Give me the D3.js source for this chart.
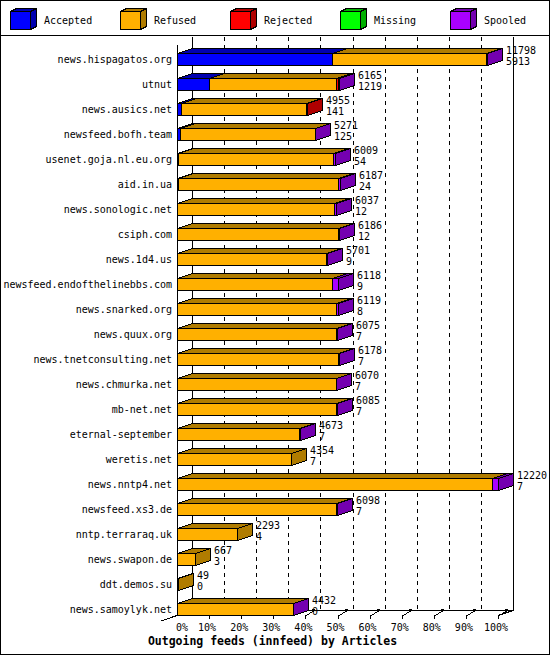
<!DOCTYPE html>
<html><head><meta charset="utf-8">
<script src="https://cdn.jsdelivr.net/npm/d3@7"></script>
<style>
body{margin:0;background:#fff}
svg{display:block}
text{font-family:"DejaVu Sans Mono",monospace;font-size:10px;fill:#000}
</style>
</head><body><svg id="c" width="550" height="655"></svg>
<script>
// ---- data ----
const hosts = ["news.hispagatos.org","utnut","news.ausics.net","newsfeed.bofh.team","usenet.goja.nl.eu.org",
  "aid.in.ua","news.sonologic.net","csiph.com","news.1d4.us","newsfeed.endofthelinebbs.com",
  "news.snarked.org","news.quux.org","news.tnetconsulting.net","news.chmurka.net","mb-net.net",
  "eternal-september","weretis.net","news.nntp4.net","newsfeed.xs3.de","nntp.terraraq.uk",
  "news.swapon.de","ddt.demos.su","news.samoylyk.net"];
const accepted = [5913,1219,141,125,54,24,12,12,9,9,8,7,7,7,7,7,7,7,7,4,3,0,0];
const refused  = [5865,4846,4784,5136,5895,6103,5975,6114,5672,5889,6061,6053,6141,6043,6058,4651,4347,12003,6051,2289,664,49,4417];
const rejected = [0,60,30,0,0,0,0,0,0,0,0,0,0,0,0,0,0,0,0,0,0,0,0];
const missing  = [0,0,0,0,0,0,0,0,0,0,0,0,0,0,0,0,0,0,0,0,0,0,0];
const spooled  = [20,40,0,10,60,60,50,60,20,220,50,15,30,20,20,15,0,210,40,0,0,0,15];
const seriesNames = ["Accepted","Refused","Rejected","Missing","Spooled"];
const seriesFront = ["#0000ff","#ffb000","#ff0000","#00ff00","#aa00ff"];
const seriesDark  = ["#0000b0","#b07c00","#b00000","#00b000","#7400b0"];
const tickPercents = [0,10,20,30,40,50,60,70,80,90,100];
const tickLabels = ["0%","10%","20%","30%","40%","50%","60%","70%","80%","90%","100%"];
const title = "Outgoing feeds (innfeed) by Articles";

// ---- layout ----
const W = 550, H = 655, DX = 15, DY = 5;
const series = [accepted, refused, rejected, missing, spooled];
const totals = hosts.map((h,i) => series.reduce((s,a) => s + a[i], 0));
const maxTotal = d3.max(totals);
const xp = d3.scaleLinear().domain([0,100]).range([177,498]);
const xv = v => xp(v / maxTotal * 100);
const y = d3.scaleBand().domain(hosts).range([40,615]);

const svg = d3.select("#c").attr("shape-rendering","crispEdges");
svg.append("rect").attr("x",0.5).attr("y",0.5).attr("width",W-1).attr("height",H-1)
  .attr("fill","#fff").attr("stroke","#000");

// legend
const lg = svg.append("g");
seriesNames.forEach((n,i) => {
  const x0 = 10 + 110*i + 0.5, y0 = 11.5, w = 20, h = 18, dx = 6, dy = 3;
  const g = lg.append("g");
  g.append("rect").attr("x",x0).attr("y",y0).attr("width",w).attr("height",h)
    .attr("fill",seriesFront[i]).attr("stroke","#000");
  g.append("polygon").attr("points",[[x0,y0],[x0+dx,y0-dy],[x0+w+dx,y0-dy],[x0+w,y0]].join(" "))
    .attr("fill",seriesDark[i]).attr("stroke","#000");
  g.append("polygon").attr("points",[[x0+w,y0],[x0+w+dx,y0-dy],[x0+w+dx,y0+h-dy],[x0+w,y0+h]].join(" "))
    .attr("fill",seriesDark[i]).attr("stroke","#000");
  g.append("text").attr("x",10+110*i+34).attr("y",24).text(n);
});
svg.append("line").attr("x1",0).attr("x2",W).attr("y1",35.5).attr("y2",35.5).attr("stroke","#000");

// back wall grid
const yTopGrid = 37, yFloorBack = 610.5, yFloorFront = 615.5;
tickPercents.forEach(p => {
  const xb = Math.round(xp(p)) + DX + 0.5;
  svg.append("line").attr("x1",xb).attr("x2",xb).attr("y1",yTopGrid).attr("y2",yFloorBack)
    .attr("stroke","#000").attr("stroke-dasharray",(p>0 && p<100) ? "4,4" : null);
});
svg.append("line").attr("x1",Math.round(xp(0))+DX).attr("x2",Math.round(xp(100))+DX)
  .attr("y1",yFloorBack).attr("y2",yFloorBack).attr("stroke","#000");
svg.append("line").attr("x1",Math.round(xp(100))).attr("y1",yFloorFront)
  .attr("x2",Math.round(xp(100))+DX).attr("y2",yFloorBack).attr("stroke","#000");
svg.append("line").attr("x1",Math.round(xp(0))+0.5).attr("x2",Math.round(xp(0))+0.5)
  .attr("y1",45).attr("y2",yFloorFront).attr("stroke","#000");
svg.append("line").attr("x1",161).attr("y1",621).attr("x2",Math.round(xp(0))).attr("y2",yFloorFront)
  .attr("stroke","#000");
// floor ticks
tickPercents.forEach(p => {
  if (p === 0) return;
  const xf = Math.round(xp(p)) + 0.5;
  svg.append("path").attr("d",`M${xf},619 L${xf},616 L${xf+8},611`).attr("fill","none").attr("stroke","#000");
  svg.append("rect").attr("x",xf+6).attr("y",609).attr("width",3).attr("height",2).attr("fill","#000");
});

// bars
hosts.forEach((h,i) => {
  const yt = y(h) + 13.5, yb = y(h) + 25.5;
  let cum = 0;
  const g = svg.append("g");
  series.forEach((arr,s) => {
    const v = arr[i];
    if (v <= 0) return;
    const x0 = Math.round(xv(cum)) + 0.5;
    cum += v;
    const x1 = Math.round(xv(cum)) + 0.5;
    g.append("rect").attr("x",x0).attr("y",yt).attr("width",Math.max(0,x1-x0)).attr("height",yb-yt)
      .attr("fill",seriesFront[s]).attr("stroke","#000");
    g.append("polygon").attr("points",[[x0,yt],[x0+DX,yt-DY],[x1+DX,yt-DY],[x1,yt]].join(" "))
      .attr("fill",seriesDark[s]).attr("stroke","#000");
    g.append("polygon").attr("points",[[x1,yt],[x1+DX,yt-DY],[x1+DX,yb-DY],[x1,yb]].join(" "))
      .attr("fill",seriesDark[s]).attr("stroke","#000");
  });
  const xe = Math.round(xv(totals[i])) + DX + 4;
  svg.append("text").attr("x",xe).attr("y",y(h)+14).text(totals[i]);
  svg.append("text").attr("x",xe).attr("y",y(h)+24.5).text(accepted[i]);
  svg.append("text").attr("x",172).attr("y",y(h)+23.3).attr("text-anchor","end").text(h);
});

// tick labels
tickPercents.forEach((p,k) => {
  svg.append("text").attr("x", p === 0 ? xp(p)+5 : xp(p)-2).attr("y",631)
    .attr("text-anchor","middle").text(tickLabels[k]);
});
svg.append("text").attr("x",272.5).attr("y",645).attr("text-anchor","middle")
  .style("font-weight","bold").style("font-size","11.5px").text(title);
</script></body></html>
